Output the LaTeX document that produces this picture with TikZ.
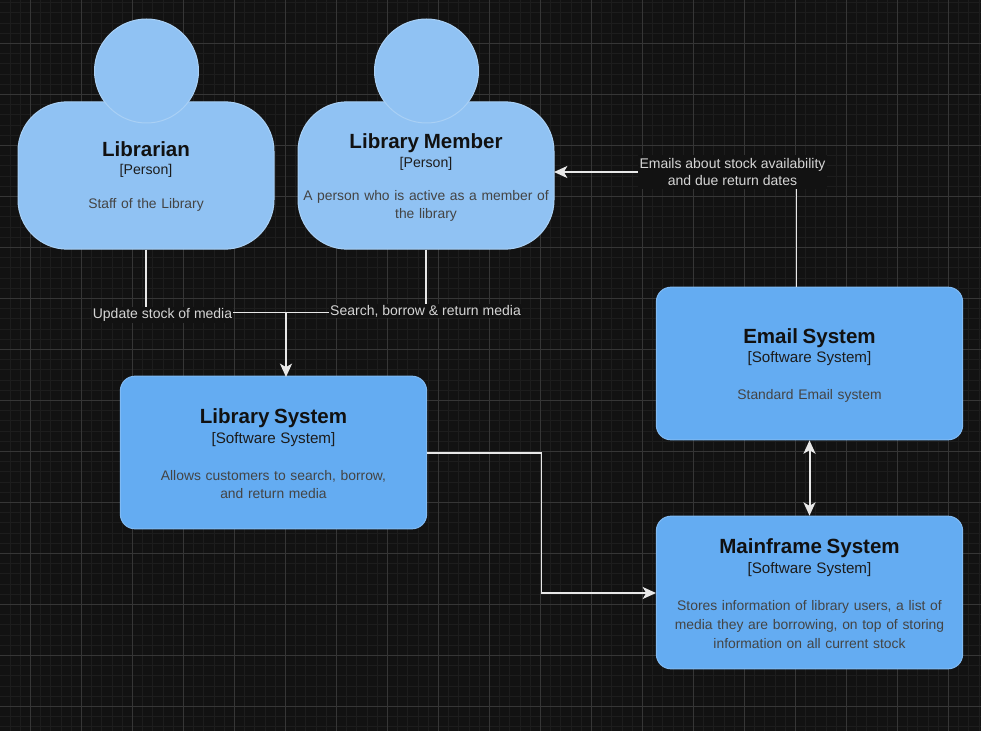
\documentclass[tikz,border=0pt]{standalone}
\usepackage{fontspec}
\setmainfont{Liberation Sans}
\usetikzlibrary{arrows.meta,calc}
\definecolor{bgc}{HTML}{121212}
\definecolor{gridminor}{HTML}{1D1D1D}
\definecolor{gridmajor}{HTML}{363636}
\definecolor{personfill}{HTML}{90C2F3}
\definecolor{personline}{HTML}{A9D0F5}
\definecolor{sysfill}{HTML}{64ACF2}
\definecolor{sysline}{HTML}{80BAF3}
\definecolor{edgec}{HTML}{E8E8E8}
\definecolor{titlec}{HTML}{111111}
\definecolor{metac}{HTML}{1C1C1C}
\definecolor{descc}{HTML}{444444}
% #1 title, #2 meta size, #3 meta, #4 gap title-meta, #5 gap meta-desc, #6 description
\newcommand{\cfourtext}[6]{{\fontsize{15.4pt}{14pt}\selectfont\bfseries\color{titlec}#1}\\[#4]{\fontsize{#2}{14pt}\selectfont\color{metac}#3}\\[#5]{\fontsize{10.4pt}{14pt}\selectfont\color{descc}#6}}
\tikzset{
  px/.style={x=0.75pt,y=-0.75pt},
  basefont/.style={font=\fontsize{10.5pt}{14pt}\selectfont},
  persbody/.style={basefont,draw=personline,fill=personfill,line width=0.75pt,rounded corners=37pt,minimum width=191.5pt,minimum height=110.5pt,inner sep=3pt,align=center,text width=186pt},
  pershead/.style={circle,draw=personline,fill=personfill,line width=0.75pt,minimum size=78pt,inner sep=0pt},
  sysbox/.style={basefont,draw=sysline,fill=sysfill,line width=0.75pt,rounded corners=11pt,minimum width=229.75pt,minimum height=114.5pt,inner sep=3pt,align=center,text width=205pt},
  rel/.style={draw=edgec,line width=1.1pt},
  relarrow/.style={rel,-{Stealth[length=10pt,width=9pt,inset=2.6pt]}},
  relboth/.style={rel,line width=1.5pt,{Stealth[length=10pt,width=9pt,inset=2.6pt]}-{Stealth[length=10pt,width=9pt,inset=2.6pt]}},
  rellabel/.style={fill=bgc,text=edgec!92!black,font=\fontsize{10.5pt}{14pt}\selectfont,align=center,inner sep=1pt}
}
\begin{document}
\begin{tikzpicture}[px]
\useasboundingbox (0,0) rectangle (981,731);
\fill[bgc] (0,0) rectangle (981,731);
% grid
\foreach \i in {-3,...,96} {
  \draw[gridminor,line width=0.75pt] ({30.5+10.2*\i},0) -- ({30.5+10.2*\i},731);
}
\foreach \i in {-4,...,72} {
  \draw[gridminor,line width=0.75pt] (0,{43.5+10.2*\i}) -- (981,{43.5+10.2*\i});
}
\foreach \i in {0,...,18} {
  \draw[gridmajor,line width=0.75pt] ({30.5+51*\i},0) -- ({30.5+51*\i},731);
}
\foreach \i in {-1,...,13} {
  \draw[gridmajor,line width=0.75pt] (0,{43.5+51*\i}) -- (981,{43.5+51*\i});
}
% nodes
\node[persbody] (p1) at (146,175.5) {\cfourtext{\rule{0pt}{12.7pt}Librarian}{10.6pt}{[Person]}{0.1pt}{11.5pt}{Staff of the Library}};
\node[pershead] (h1) at (146.5,71) {};
\node[persbody] (p2) at (426,175.5) {\cfourtext{\rule{0pt}{14.2pt}Library Member}{10.6pt}{[Person]}{0.1pt}{11pt}{A person who is active as a member of\\[-0.9pt]the library}};
\node[pershead] (h2) at (426.5,71) {};
\node[sysbox] (lib) at (273.5,452.5) {\cfourtext{\rule{0pt}{12.7pt}Library System}{11.4pt}{[Software System]}{0.4pt}{13.75pt}{Allows customers to search, borrow,\\[-0.5pt]and return media}};
\node[sysbox] (email) at (809.5,363.5) {\cfourtext{\rule{0pt}{14.2pt}Email System}{11.4pt}{[Software System]}{0.4pt}{13.75pt}{Standard Email system}};
\node[sysbox] (main) at (809.5,592.5) {\cfourtext{\rule{0pt}{12.7pt}Mainframe System}{11.4pt}{[Software System]}{0.4pt}{13.75pt}{Stores information of library users, a list of\\[0.25pt]media they are borrowing, on top of storing\\[0.25pt]information on all current stock}};
% connectors
\coordinate (junction) at (286,312.5);
\coordinate (libin) at (286,377);
\coordinate (emailout) at (796.5,287);
\coordinate (memberin) at (554,172);
\coordinate (libout) at (427,453);
\coordinate (mainin) at (656,593);
\coordinate (midx) at (541.5,453);
\draw[rel] (p1.south) |- (junction);
\draw[rel] (p2.south) |- (junction);
\draw[relarrow,line width=1.6pt] (junction) -- (libin);
\draw[relarrow] (emailout) |- (memberin);
\draw[relarrow] (libout) -- (midx) |- (mainin);
\draw[relboth] (email.south) -- (main.north);
% labels
\node[rellabel] (l1) at (162.5,315) {Update stock of media};
\node[rellabel] (l2) at (425.5,311) {Search, borrow \& return media};
\node[rellabel,minimum width=141pt,minimum height=25pt] (l3) at (732.5,172) {Emails about stock availability\\[-1pt]and due return dates};
\end{tikzpicture}
\end{document}
